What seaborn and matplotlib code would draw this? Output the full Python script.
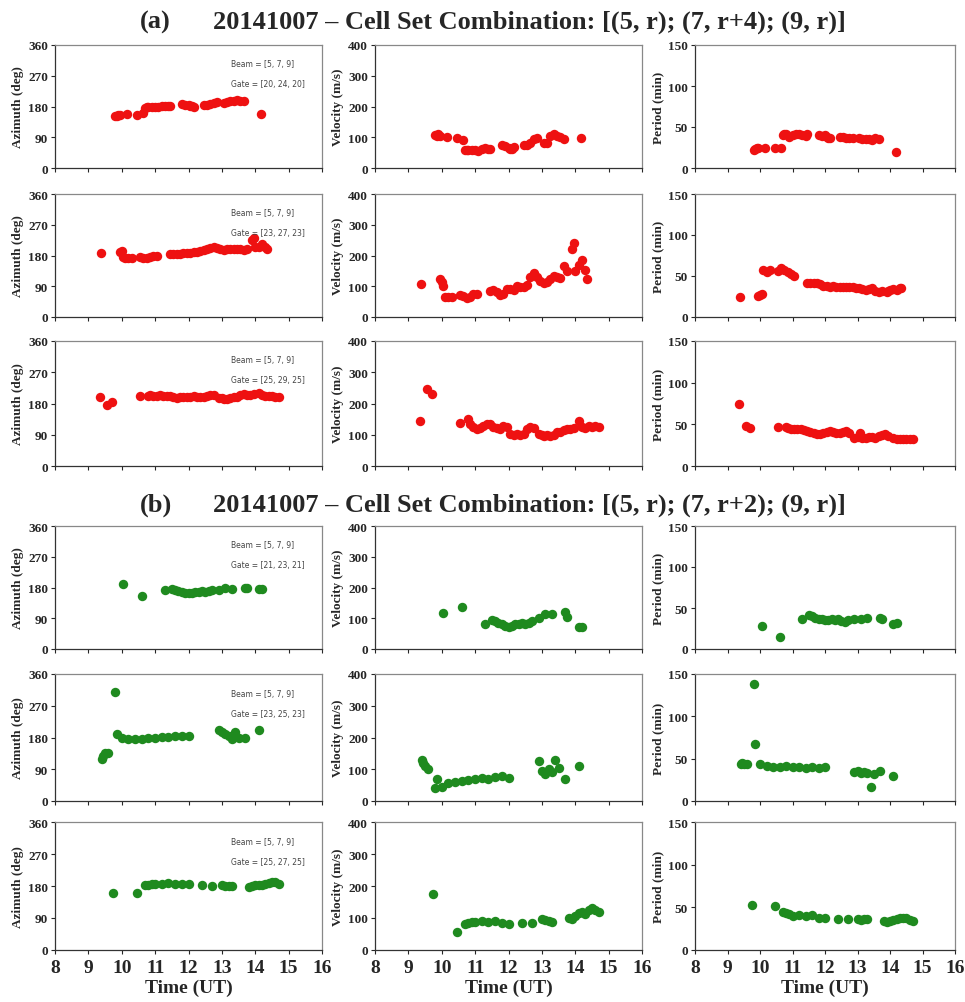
import numpy as np
import pandas as pd
import matplotlib
matplotlib.use("Agg")
import matplotlib.pyplot as plt
import seaborn as sns

# ---- data ----
# (a) rows : gate sets [20,24,20], [23,27,23], [25,29,25]
a1_time = [9.8, 9.85, 9.9, 9.95, 10.15, 10.45, 10.65, 10.7, 10.75, 10.8, 10.9, 11.0, 11.1, 11.2, 11.3, 11.4,
           11.45, 11.8, 11.9, 12.0, 12.05, 12.1, 12.15, 12.45, 12.55, 12.65, 12.75, 12.85, 13.05, 13.15,
           13.25, 13.35, 13.45, 13.55, 13.65, 14.17]
a1_azim = [152, 153, 155, 155, 158, 156, 162, 175, 178, 178, 179, 180, 180, 181, 181, 182, 182, 186, 185, 183,
           182, 181, 180, 183, 184, 186, 190, 193, 190, 193, 195, 197, 198, 197, 195, 158]
a1_vel = [108, 105, 110, 105, 100, 97, 90, 60, 58, 58, 60, 57, 55, 62, 65, 63, 63, 75, 72, 65, 62, 63, 67, 75,
          75, 80, 95, 98, 80, 82, 105, 110, 105, 100, 95, 97]
a1_per = [22, 23, 24, 24, 24, 25, 25, 40, 42, 41, 38, 40, 42, 42, 40, 39, 41, 40, 39, 40, 38, 37, 36, 38, 38,
          37, 37, 37, 36, 35, 35, 35, 34, 36, 35, 20]

a2_time = [9.37, 9.95, 10.0, 10.05, 10.1, 10.2, 10.3, 10.55, 10.65, 10.75, 10.85, 10.95, 11.05, 11.45, 11.55,
           11.65, 11.75, 11.85, 11.95, 12.05, 12.15, 12.25, 12.35, 12.45, 12.55, 12.65, 12.75, 12.85, 12.95,
           13.05, 13.15, 13.25, 13.35, 13.45, 13.55, 13.65, 13.75, 13.9, 13.95, 14.0, 14.1, 14.2, 14.3, 14.35]
a2_azim = [188, 190, 192, 175, 172, 173, 172, 175, 173, 172, 175, 180, 180, 183, 185, 183, 184, 186, 188, 188,
           190, 190, 193, 195, 198, 202, 205, 202, 198, 196, 198, 200, 199, 200, 198, 196, 200, 225, 230, 205,
           205, 215, 205, 198]
a2_vel = [106, 125, 115, 100, 65, 65, 66, 72, 68, 63, 65, 75, 76, 86, 87, 80, 72, 75, 90, 92, 88, 100, 98, 98,
          105, 130, 142, 130, 117, 112, 115, 125, 134, 130, 128, 166, 150, 220, 242, 148, 170, 185, 152, 122]
a2_per = [24, 26, 27, 28, 57, 55, 57, 56, 60, 57, 55, 52, 50, 42, 41, 42, 41, 40, 38, 38, 37, 38, 37, 37, 36,
          37, 36, 36, 35, 35, 34, 33, 34, 35, 32, 31, 32, 31, 32, 33, 34, 33, 35, 35]

a3_time = [9.35, 9.57, 9.7, 10.55, 10.8, 10.85, 10.95, 11.05, 11.15, 11.25, 11.35, 11.45, 11.55, 11.65, 11.75,
           11.85, 11.95, 12.05, 12.15, 12.25, 12.35, 12.45, 12.55, 12.65, 12.75, 12.9, 13.0, 13.07, 13.15,
           13.25, 13.35, 13.45, 13.55, 13.65, 13.75, 13.85, 13.95, 14.1, 14.2, 14.3, 14.4, 14.5, 14.6, 14.7]
a3_azim = [200, 176, 183, 203, 203, 204, 203, 203, 204, 203, 202, 203, 198, 197, 198, 199, 200, 200, 201, 200,
           199, 200, 202, 205, 204, 196, 195, 194, 193, 196, 198, 200, 204, 206, 205, 205, 207, 209, 204, 203,
           202, 201, 200, 200]
a3_vel = [143, 247, 230, 137, 152, 136, 125, 120, 122, 128, 135, 133, 125, 122, 118, 128, 125, 102, 100, 103,
          100, 102, 118, 125, 122, 102, 100, 95, 98, 97, 100, 108, 110, 114, 118, 120, 123, 143, 125, 122, 128,
          126, 127, 125]
a3_per = [75, 48, 46, 47, 47, 46, 45, 45, 44, 44, 43, 42, 41, 40, 39, 38, 40, 41, 42, 41, 40, 40, 41, 42, 40,
          34, 35, 40, 34, 34, 35, 35, 34, 36, 37, 38, 36, 34, 33, 33, 32, 32, 33, 33]

# (b) rows : gate sets [21,23,21], [23,25,23], [25,27,25]
b1_time = [10.05, 10.6, 11.3, 11.5, 11.6, 11.7, 11.8, 11.9, 12.0, 12.1, 12.2, 12.3, 12.4, 12.5, 12.6, 12.7,
           12.9, 13.1, 13.3, 13.7, 13.75, 14.1, 14.2]
b1_azim = [190, 155, 172, 175, 172, 170, 168, 165, 165, 165, 167, 168, 170, 168, 170, 172, 172, 178, 175, 178,
           178, 175, 175]
b1_vel = [118, 135, 80, 95, 90, 85, 80, 75, 72, 75, 80, 82, 85, 82, 85, 90, 100, 115, 115, 120, 105, 72, 72]
b1_per = [28, 15, 37, 42, 40, 38, 37, 36, 35, 35, 36, 35, 36, 34, 33, 35, 36, 37, 38, 38, 36, 30, 32]

b2_time = [9.4, 9.45, 9.5, 9.6, 9.8, 9.85, 10.0, 10.2, 10.4, 10.6, 10.8, 11.0, 11.2, 11.4, 11.6, 11.8, 12.0,
           12.9, 13.0, 13.1, 13.2, 13.3, 13.4, 13.5, 13.7, 14.1]
b2_azim = [120, 128, 135, 135, 310, 190, 178, 175, 175, 176, 178, 180, 182, 182, 184, 185, 185, 200, 195, 190,
           185, 175, 195, 180, 180, 200]
b2_vel = [130, 120, 110, 100, 40, 70, 45, 58, 60, 62, 65, 68, 72, 70, 75, 78, 72, 125, 95, 85, 100, 90, 130,
          105, 70, 110]
b2_per = [44, 45, 44, 44, 138, 67, 44, 41, 40, 40, 41, 40, 40, 39, 40, 39, 40, 34, 35, 33, 34, 33, 16, 32, 35,
          30]

b3_time = [9.75, 10.45, 10.7, 10.8, 10.9, 11.0, 11.2, 11.4, 11.6, 11.8, 12.0, 12.4, 12.7, 13.0, 13.1, 13.2,
           13.3, 13.8, 13.9, 14.0, 14.1, 14.2, 14.3, 14.4, 14.5, 14.6, 14.7]
b3_azim = [160, 160, 182, 184, 185, 186, 187, 188, 187, 186, 185, 182, 180, 182, 181, 180, 180, 178, 180, 182,
           182, 183, 185, 188, 192, 190, 187]
b3_vel = [175, 55, 80, 85, 88, 86, 90, 88, 90, 85, 82, 85, 85, 98, 95, 90, 88, 100, 98, 105, 115, 118, 112, 125,
          132, 125, 118]
b3_per = [53, 52, 45, 43, 42, 40, 41, 40, 41, 38, 38, 36, 36, 36, 35, 36, 36, 34, 33, 34, 35, 36, 37, 38, 37,
          35, 34]

gates_a = ["[20, 24, 20]", "[23, 27, 23]", "[25, 29, 25]"]
gates_b = ["[21, 23, 21]", "[23, 25, 23]", "[25, 27, 25]"]

rows = [
    (a1_time, a1_azim, a1_vel, a1_per, gates_a[0], "#ee1111"),
    (a2_time, a2_azim, a2_vel, a2_per, gates_a[1], "#ee1111"),
    (a3_time, a3_azim, a3_vel, a3_per, gates_a[2], "#ee1111"),
    (b1_time, b1_azim, b1_vel, b1_per, gates_b[0], "#1f8a1f"),
    (b2_time, b2_azim, b2_vel, b2_per, gates_b[1], "#1f8a1f"),
    (b3_time, b3_azim, b3_vel, b3_per, gates_b[2], "#1f8a1f"),
]

# panel rows in pixels (top, bottom)
row_px = [(46, 169), (195, 318), (342, 467), (527, 650), (675, 802), (823, 951)]
col_px = [(55, 322), (375, 642), (695, 955)]

sns.set_style("ticks")
plt.rcParams['font.family'] = ['Liberation Serif', 'DejaVu Serif']

W, H = 965, 1003
fig = plt.figure(figsize=(W / 100, H / 100), dpi=100)

ylabels = ["Azimuth (deg)", "Velocity (m/s)", "Period (min)"]
ylims = [(0, 360, 90), (0, 400, 100), (0, 150, 50)]

for r, (t, az, vel, per, gate, col) in enumerate(rows):
    top, bot = row_px[r]
    for c, vals in enumerate([az, vel, per]):
        x0, x1 = col_px[c]
        ax = fig.add_axes([x0 / W, 1 - bot / H, (x1 - x0) / W, (bot - top) / H])
        df = pd.DataFrame({'Time': t, 'Value': vals})
        sns.scatterplot(data=df, x='Time', y='Value', ax=ax, color=col, s=46, linewidth=0)
        ax.set_xlim(8, 16)
        ax.set_xticks(range(8, 17))
        lo, hi, step = ylims[c]
        ax.set_ylim(lo, hi)
        ax.set_yticks(np.arange(lo, hi + 1, step))
        ax.set_ylabel(ylabels[c], fontsize=9.5, fontweight='bold', labelpad=3)
        ax.tick_params(axis='y', labelsize=9.5, length=3, direction='out', pad=2)
        for lab in ax.get_yticklabels():
            lab.set_fontweight('bold')
        if r == 5:
            ax.set_xlabel("Time (UT)", fontsize=14, fontweight='bold', labelpad=2)
            ax.tick_params(axis='x', labelsize=14, length=3, direction='out')
            for lab in ax.get_xticklabels():
                lab.set_fontweight('bold')
        else:
            ax.set_xlabel("")
            ax.tick_params(axis='x', labelbottom=False, length=3, direction='out')
        for sp in ax.spines.values():
            sp.set_color('#888888')
            sp.set_linewidth(0.9)
        ax.spines['left'].set_color('#333333')
        ax.spines['bottom'].set_color('#333333')
        if c == 0:
            ax.text(0.66, 0.85, "Beam = [5, 7, 9]", transform=ax.transAxes, fontsize=5.5,
                    family='DejaVu Sans', color='#444444', va='center')
            ax.text(0.66, 0.69, "Gate = " + gate, transform=ax.transAxes, fontsize=5.5,
                    family='DejaVu Sans', color='#444444', va='center')

fig.text(140 / W, 1 - 22 / H, "(a)", fontsize=19, fontweight='bold', va='center')
fig.text(213 / W, 1 - 22 / H, "20141007 \u2013 Cell Set Combination: [(5, r); (7, r+4); (9, r)]",
         fontsize=19, fontweight='bold', va='center')
fig.text(140 / W, 1 - 505 / H, "(b)", fontsize=19, fontweight='bold', va='center')
fig.text(213 / W, 1 - 505 / H, "20141007 \u2013 Cell Set Combination: [(5, r); (7, r+2); (9, r)]",
         fontsize=19, fontweight='bold', va='center')

fig.savefig("out.png", dpi=100)
